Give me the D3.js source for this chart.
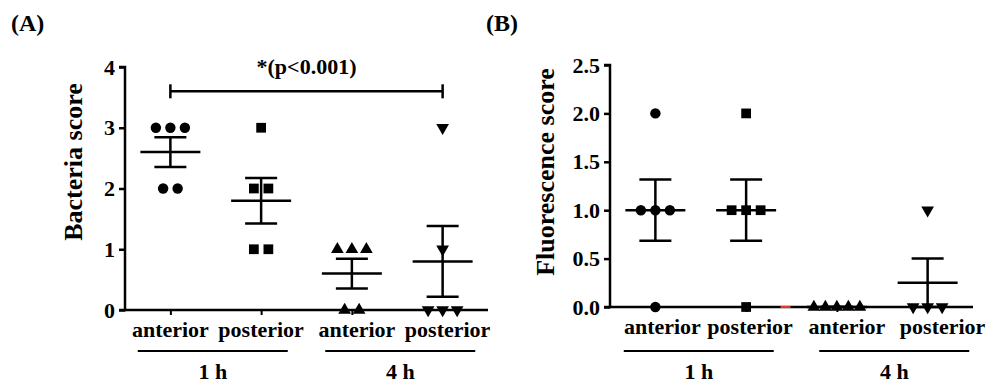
<!DOCTYPE html>
<html lang="en">
<head>
<meta charset="utf-8">
<title>scores</title>
<style>
  body { margin: 0; background: #fff; }
  svg text { font-family: "Liberation Serif", "Times New Roman", serif; font-weight: bold; fill: #000; }
</style>
</head>
<body>
<script src="https://cdn.jsdelivr.net/npm/d3@7"></script>
<script>

// categories, in plotting order
const categories = ["anterior 1 h", "posterior 1 h", "anterior 4 h", "posterior 4 h"];
const siteLabels = ["anterior", "posterior", "anterior", "posterior"];
const timeGroups = ["1 h", "4 h"];
const markerShapes = ["circle", "square", "triangle", "triangleDown"];

// individual scores per category
const bacteriaScores = [[3, 3, 3, 2, 2], [3, 2, 2, 1, 1], [1, 1, 1, 0, 0], [3, 1, 0, 0, 0]];
const fluorescenceScores = [[2, 1, 1, 1, 0], [2, 1, 1, 1, 0], [0, 0, 0, 0, 0], [1, 0, 0, 0]];

const bacteriaTicks = [0, 1, 2, 3, 4];
const fluorescenceTicks = [0, 0.5, 1, 1.5, 2, 2.5];

const significance = { from: 0, to: 3, level: 3.6, label: "*(p<0.001)" };

const W = 989, H = 385;
const svg = d3.select("body").append("svg")
	.attr("width", W)
	.attr("height", H);

function meanSem(v) {
	const m = d3.mean(v);
	const sd = d3.deviation(v) || 0;
	return { mean: m, sem: sd / Math.sqrt(v.length) };
}

function symbolPath(shape) {
	if (shape === "circle") return d3.symbol().type(d3.symbolCircle).size(85)();
	if (shape === "square") return d3.symbol().type(d3.symbolSquare).size(95)();
	return d3.symbol().type(d3.symbolTriangle).size(70)();
}

function drawPanel(p) {
	const g = svg.append("g");

	const x = d3.scalePoint()
		.domain(categories)
		.range([p.x0, p.x1])
		.padding(0.5);
	const y = d3.scaleLinear()
		.domain([0, p.yMax])
		.range([p.yBottom, p.yTop]);

	// panel tag
	g.append("text")
		.attr("x", p.tagX)
		.attr("y", 31)
		.attr("font-size", 24)
		.text(p.tag);

	// y axis
	const yAxis = g.append("g")
		.attr("transform", `translate(${p.x0},0)`)
		.call(d3.axisLeft(y).tickValues(p.ticks).tickFormat(p.fmt).tickSize(6).tickPadding(4));
	yAxis.select(".domain").attr("stroke-width", 2.5).attr("d", `M-6,${y(p.yMax)}H0V${y(0)}H-6`);
	yAxis.selectAll(".tick line").attr("stroke-width", 2.5);
	yAxis.selectAll(".tick text").attr("font-size", 22);

	// x axis
	const xAxis = g.append("g")
		.attr("transform", `translate(0,${p.yBottom})`)
		.call(d3.axisBottom(x).tickSize(5).tickFormat(""));
	xAxis.select(".domain").attr("stroke-width", 2.5).attr("d", `M${p.x0},0H${p.x1}`);
	xAxis.selectAll(".tick line").attr("stroke-width", 2);

	if (p.redMark) {
		const xm = (x(categories[1]) + x(categories[2])) / 2 - 6;
		g.append("line")
			.attr("x1", xm - 5).attr("x2", xm + 5)
			.attr("y1", p.yBottom).attr("y2", p.yBottom)
			.attr("stroke", "#e8332f")
			.attr("stroke-width", 2);
	}

	g.selectAll(".site")
		.data(categories)
		.join("text")
		.attr("class", "site")
		.attr("x", (d, i) => x(d) + p.labelShift[i])
		.attr("y", p.yBottom + 27)
		.attr("text-anchor", "middle")
		.attr("font-size", 22)
		.text((d, i) => siteLabels[i]);

	// time groups
	timeGroups.forEach((t, gi) => {
		const cx = (x(categories[gi * 2]) + x(categories[gi * 2 + 1])) / 2 + p.groupShift[gi];
		g.append("line")
			.attr("x1", cx - 75).attr("x2", cx + 75)
			.attr("y1", 351).attr("y2", 351)
			.attr("stroke", "#000")
			.attr("stroke-width", 2);
		g.append("text")
			.attr("x", cx)
			.attr("y", 379)
			.attr("text-anchor", "middle")
			.attr("font-size", 22)
			.text(t);
	});

	// y label
	g.append("text")
		.attr("transform", `translate(${p.labelX},${p.labelY}) rotate(-90)`)
		.attr("text-anchor", "middle")
		.attr("dominant-baseline", "central")
		.attr("font-size", 26)
		.text(p.title);

	// points
	p.values.forEach((vals, ci) => {
		const counts = d3.rollup(vals, v => v.length, d => d);
		const seen = new Map();
		const pts = vals.map(v => {
			const n = counts.get(v);
			const k = seen.get(v) || 0;
			seen.set(v, k + 1);
			const step = n > 3 ? 46 / (n - 1) : 14.5;
			return { v, dx: (k - (n - 1) / 2) * step };
		});
		const shape = markerShapes[ci];
		g.selectAll(null)
			.data(pts)
			.join("path")
			.attr("d", symbolPath(shape))
			.attr("transform", d => `translate(${x(categories[ci]) + d.dx},${y(d.v)})` + (shape === "triangleDown" ? " rotate(180)" : ""))
			.attr("fill", "#000");

		// mean and SEM
		const s = meanSem(vals);
		const cx = x(categories[ci]);
		const eb = g.append("g").attr("stroke", "#000").attr("stroke-width", 2.5);
		eb.append("line")
			.attr("x1", cx).attr("x2", cx)
			.attr("y1", y(s.mean + s.sem)).attr("y2", y(s.mean - s.sem));
		eb.append("line")
			.attr("x1", cx - 30).attr("x2", cx + 30)
			.attr("y1", y(s.mean)).attr("y2", y(s.mean));
		[s.mean + s.sem, s.mean - s.sem].forEach(v => {
			eb.append("line")
				.attr("x1", cx - 16).attr("x2", cx + 16)
				.attr("y1", y(v)).attr("y2", y(v));
		});
	});

	// significance bracket
	if (p.sig) {
		const xa = x(categories[p.sig.from]), xb = x(categories[p.sig.to]);
		const ys = y(p.sig.level);
		const br = g.append("g").attr("stroke", "#000").attr("stroke-width", 2.5);
		br.append("line").attr("x1", xa).attr("x2", xb).attr("y1", ys).attr("y2", ys);
		[xa, xb].forEach(xx => {
			br.append("line").attr("x1", xx).attr("x2", xx).attr("y1", ys - 7).attr("y2", ys + 7);
		});
		g.append("text")
			.attr("x", (xa + xb) / 2)
			.attr("y", ys - 17)
			.attr("text-anchor", "middle")
			.attr("font-size", 22)
			.text(p.sig.label);
	}
}

drawPanel({
	tag: "(A)", tagX: 11,
	title: "Bacteria score", labelX: 73, labelY: 162,
	values: bacteriaScores, ticks: bacteriaTicks, fmt: d3.format("d"), yMax: 4,
	x0: 125, x1: 488, yTop: 67, yBottom: 310,
	labelShift: [0, 0, 5, 5], groupShift: [-3, 3],
	sig: significance, redMark: false
});

drawPanel({
	tag: "(B)", tagX: 486,
	title: "Fluorescence score", labelX: 545, labelY: 172,
	values: fluorescenceScores, ticks: fluorescenceTicks, fmt: d3.format(".1f"), yMax: 2.5,
	x0: 610, x1: 973, yTop: 65, yBottom: 307,
	labelShift: [7, 4, 10, 15], groupShift: [-2, 12],
	sig: null, redMark: true
});

</script>
</body>
</html>
